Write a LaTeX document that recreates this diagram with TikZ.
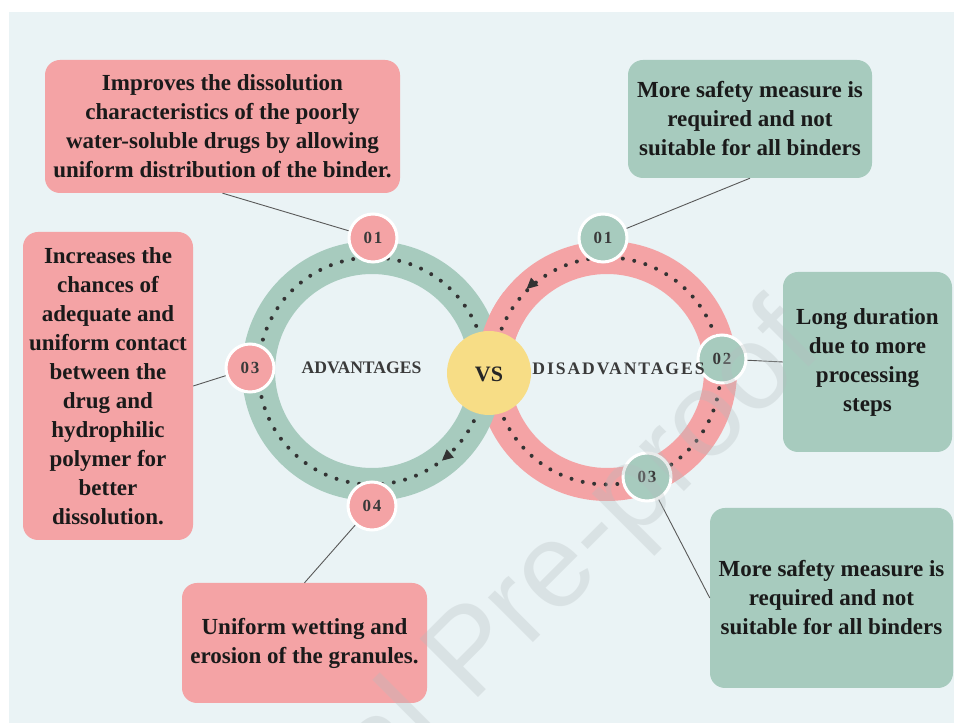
\documentclass[tikz,border=0pt]{standalone}
\usepackage{fontspec}
\setmainfont{Liberation Serif}
\newfontfamily\wmfont{Liberation Sans}
\usetikzlibrary{calc}

\definecolor{bgblue}{HTML}{EAF3F5}
\definecolor{ringgreen}{HTML}{A7CBBE}
\definecolor{ringpink}{HTML}{F4A3A5}
\definecolor{vsyellow}{HTML}{F7DD86}
\definecolor{dotgray}{HTML}{333333}
\definecolor{labelgray}{HTML}{3A3A3A}
\definecolor{inkblack}{HTML}{1A1A1A}
\definecolor{wmgray}{HTML}{B5BDBF}

\begin{document}
\begin{tikzpicture}[x=1pt,y=1pt,
  box/.style={rounded corners=15pt, inner sep=0pt, align=center,
    font=\fontsize{23}{29}\selectfont\bfseries, text=inkblack},
  pinkbox/.style={box, fill=ringpink},
  greenbox/.style={box, fill=ringgreen},
  band/.style={line width=33pt},
  dots/.style={draw=dotgray, line width=4pt, line cap=round, dash pattern=on 0pt off 11.6pt},
  numdisc/.style={circle, minimum size=48pt, inner sep=0pt, draw=white, line width=3pt,
    font=\fontsize{17}{17}\selectfont\bfseries\addfontfeature{LetterSpace=10}, text=labelgray},
  link/.style={draw=black!65, line width=0.9pt},
  ringlabel/.style={font=\fontsize{17.6}{18}\selectfont\bfseries, text=labelgray, inner sep=0pt},
  tri/.style={fill=dotgray}
]
% page and panel
\fill[white] (0,0) rectangle (954,723);
\useasboundingbox (0,0) rectangle (954,723);
\fill[bgblue] (9,0) rectangle (954,711);

% ring centres
\coordinate (G) at (372,352);
\coordinate (P) at (607,352);

% pink ring (disadvantages)
\draw[band, ringpink] (P) circle (113.5);
\draw[dots] (P) circle (113.5);
% green ring (advantages)
\draw[band, ringgreen] (G) circle (113.5);
\draw[dots] (G) circle (113.5);
% pink ring passes over the green one at the upper crossing
\begin{scope}
  \clip (465,352) rectangle (525,430);
  \draw[band, ringpink] (P) circle (113.5);
  \draw[dots] (P) circle (113.5);
\end{scope}

% direction arrowheads
\fill[tri, shift={(446.5,266.3)}, rotate=-139] (6,0) -- (-5,5.5) -- (-5,-5.5) -- cycle;
\fill[tri, shift={(531,438)}, rotate=-138] (6,0) -- (-5,5.5) -- (-5,-5.5) -- cycle;

% centre badge
\node[circle, fill=vsyellow, minimum size=84pt, inner sep=0pt] (vs) at (489,350) {};
\node[font=\fontsize{22}{22}\selectfont\bfseries, text=black!85] at (489,349) {VS};

% numbered discs
\node[numdisc, fill=ringpink] (g01) at (373,485) {01};
\node[numdisc, fill=ringpink] (g03) at (250,355) {03};
\node[numdisc, fill=ringpink] (g04) at (372,217) {04};
\node[numdisc, fill=ringgreen] (p01) at (603,485) {01};
\node[numdisc, fill=ringgreen] (p02) at (722,364) {02};
\node[numdisc, fill=ringgreen] (p03) at (647,246) {03};

% ring titles
\node[ringlabel] at (361.5,355) {ADVANTAGES};
\node[ringlabel, font=\fontsize{17.6}{18}\selectfont\bfseries\addfontfeature{LetterSpace=11}] at (618.5,354) {DISADVANTAGES};

% text boxes
\node[pinkbox, minimum width=355pt, minimum height=133pt] (b1) at (222.5,596.5)
  {Improves the dissolution\\characteristics of the poorly\\water-soluble drugs by allowing\\uniform distribution of the binder.};
\node[greenbox, minimum width=244pt, minimum height=118pt] (b2) at (750,604)
  {More safety measure is\\required and not\\suitable for all binders};
\node[pinkbox, minimum width=170pt, minimum height=308pt] (b3) at (108,337)
  {Increases the\\chances of\\adequate and\\uniform contact\\between the\\drug and\\hydrophilic\\polymer for\\better\\dissolution.};
\node[greenbox, minimum width=169pt, minimum height=180pt] (b4) at (867.5,361)
  {Long duration\\due to more\\processing\\steps};
\node[pinkbox, minimum width=245pt, minimum height=120pt] (b5) at (304.5,80)
  {Uniform wetting and\\erosion of the granules.};
\node[greenbox, minimum width=243pt, minimum height=180pt] (b6) at (831.5,125)
  {More safety measure is\\required and not\\suitable for all binders};

% leader lines
\draw[link] (b1.south) -- (g01);
\draw[link] (b2.south) -- (p01);
\draw[link] (b3.east) -- (g03);
\draw[link] (b4.west) -- (p02);
\draw[link] (b5.north) -- (g04);
\draw[link] (b6.west) -- (p03);

% watermark
\node[font=\wmfont\fontsize{120}{120}\selectfont, text=wmgray, opacity=0.3,
      rotate=45, anchor=base east, inner sep=0pt] (wm) at (825,372) {Journal Pre-proof};
\end{tikzpicture}
\end{document}
